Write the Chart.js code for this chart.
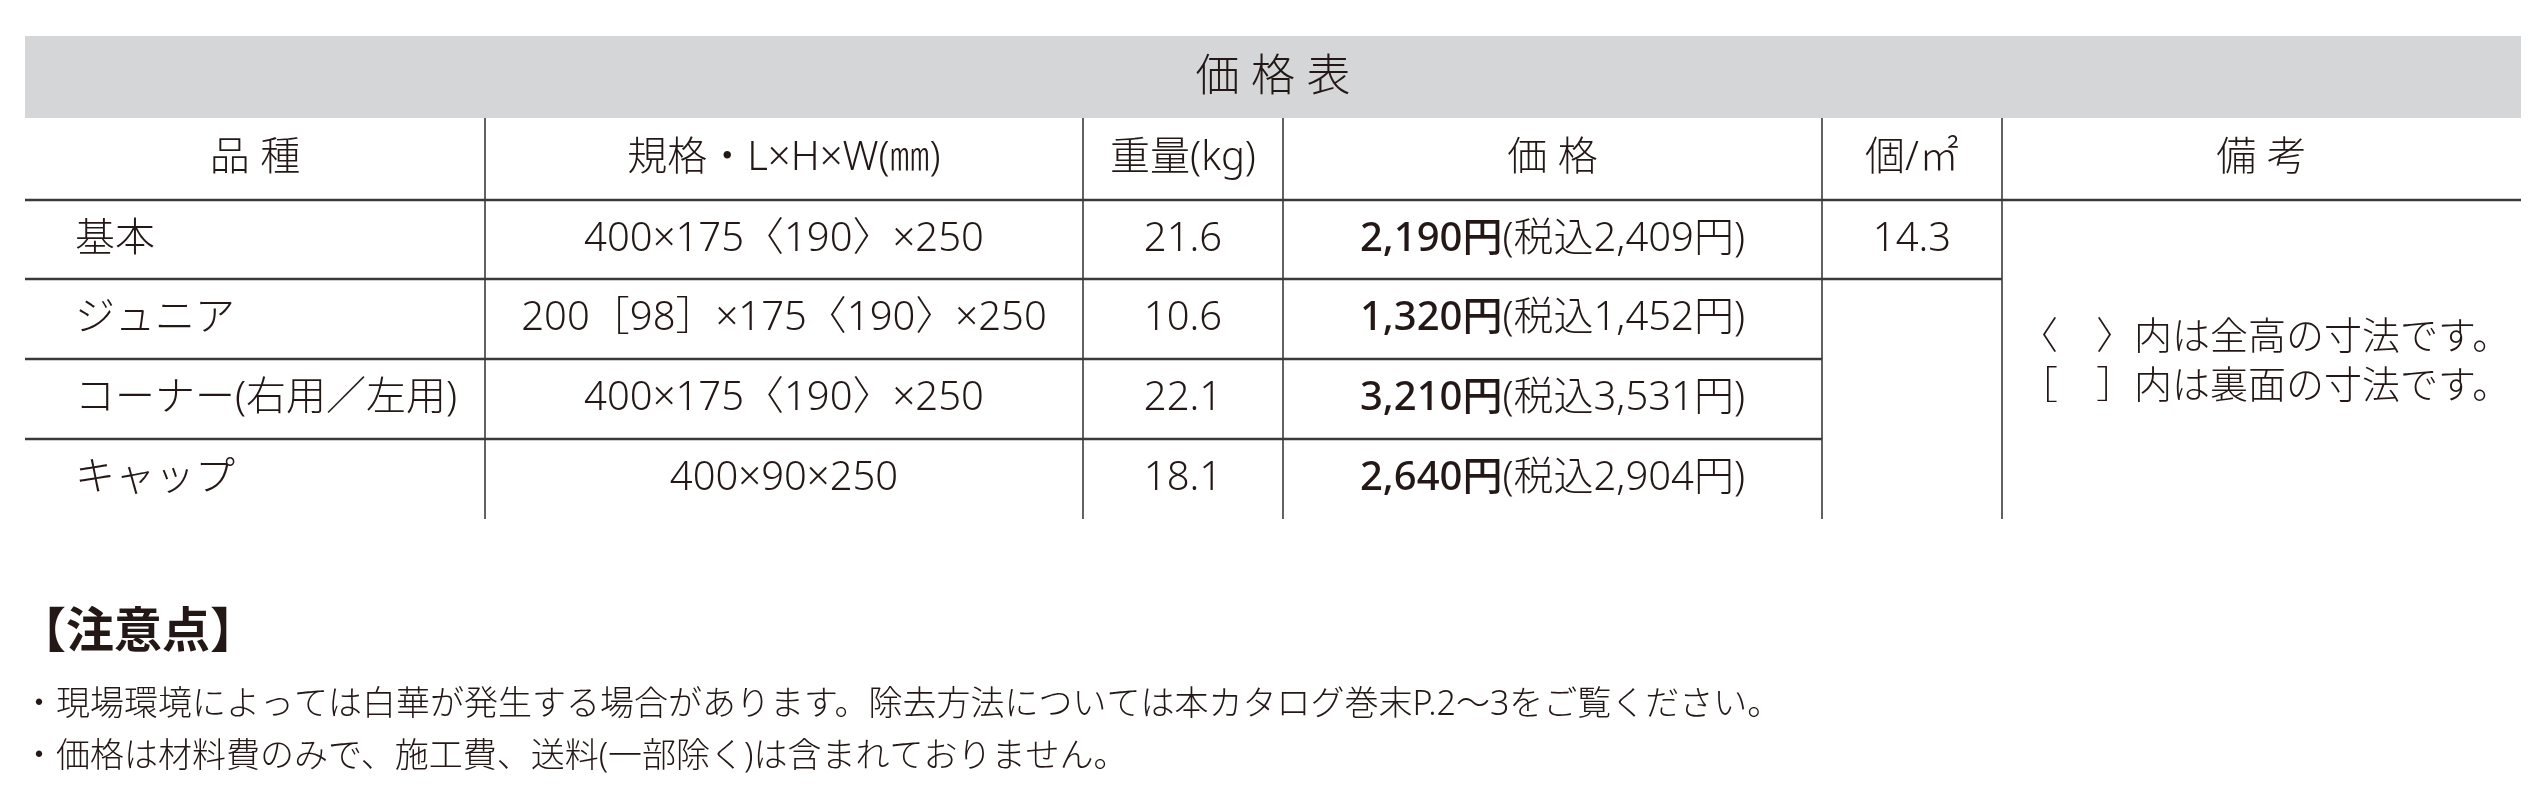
<!DOCTYPE html>
<html>
<head>
<meta charset="utf-8">
<script src="https://cdn.jsdelivr.net/npm/chart.js@4/dist/chart.umd.min.js"></script>
<style>
html, body { margin: 0; padding: 0; background: #fff; }
#wrap { width: 2540px; height: 810px; }
</style>
</head>
<body>
<div id="wrap"><canvas id="priceTable"></canvas></div>
<script>
const title = "価 格 表";
const headers = ["品 種", "規格・L×H×W(㎜)", "重量(kg)", "価 格", "個/㎡", "備 考"];
const names = ["基本", "ジュニア", "コーナー(右用／左用)", "キャップ"];
const sizes = ["400×175〈190〉×250", "200［98］×175〈190〉×250", "400×175〈190〉×250", "400×90×250"];
const weights = [21.6, 10.6, 22.1, 18.1];
const prices = ["2,190円", "1,320円", "3,210円", "2,640円"];
const taxPrices = ["(税込2,409円)", "(税込1,452円)", "(税込3,531円)", "(税込2,904円)"];
const perM2 = ["14.3"];
const remarks = ["〈　〉内は全高の寸法です。", "［　］内は裏面の寸法です。"];
const notesTitle = "【注意点】";
const notes = [
    "・現場環境によっては白華が発生する場合があります。除去方法については本カタログ巻末P.2〜3をご覧ください。",
    "・価格は材料費のみで、施工費、送料(一部除く)は含まれておりません。"
];

// layout (pixels of the 2540x810 page)
const colEdges = [25, 485, 1083, 1283, 1822, 2002, 2521];
const rowEdges = [118, 200, 279, 359, 439, 519];
const FONT = '"Noto Sans", "Noto Sans CJK JP", sans-serif';
const INK = "#231815";

const tablePlugin = {
    id: "tablePlugin",
    afterDraw(chart) {
        const ctx = chart.ctx;
        const X = v => chart.scales.x.getPixelForValue(v);
        const Y = v => chart.scales.y.getPixelForValue(v);
        const line = (x1, y1, x2, y2, w) => {
            ctx.beginPath();
            ctx.lineWidth = w;
            ctx.strokeStyle = "#3a3a3a";
            ctx.moveTo(X(x1), Y(y1));
            ctx.lineTo(X(x2), Y(y2));
            ctx.stroke();
        };
        ctx.save();
        ctx.fillStyle = "#d5d6d8";
        ctx.fillRect(X(colEdges[0]), Y(36), X(colEdges[6]) - X(colEdges[0]), Y(rowEdges[0]) - Y(36));
        ctx.fillStyle = INK;
        ctx.textBaseline = "middle";
        ctx.textAlign = "center";
        ctx.font = "300 44px " + FONT;
        ctx.fillText(title, X(1273), Y(78));

        line(colEdges[0], rowEdges[1], colEdges[6], rowEdges[1], 2.5);
        line(colEdges[0], rowEdges[2], colEdges[5], rowEdges[2], 2.5);
        line(colEdges[0], rowEdges[3], colEdges[4], rowEdges[3], 2.5);
        line(colEdges[0], rowEdges[4], colEdges[4], rowEdges[4], 2.5);
        for (let i = 1; i <= 5; i++) line(colEdges[i], rowEdges[0], colEdges[i], rowEdges[5], 1.6);

        const cx = i => (colEdges[i] + colEdges[i + 1]) / 2;
        const cy = r => (rowEdges[r] + rowEdges[r + 1]) / 2;

        ctx.font = "300 40px " + FONT;
        headers.forEach((h, i) => ctx.fillText(h, X(cx(i)), Y(cy(0))));

        names.forEach((n, r) => {
            const y = Y(cy(r + 1));
            ctx.textAlign = "left";
            ctx.font = "300 40px " + FONT;
            ctx.fillText(n, X(75), y);
            ctx.textAlign = "center";
            ctx.fillText(sizes[r], X(cx(1)), y);
            ctx.fillText(weights[r].toFixed(1), X(cx(2)), y);
            ctx.font = "500 40px " + FONT;
            const w1 = ctx.measureText(prices[r]).width;
            ctx.font = "300 40px " + FONT;
            const w2 = ctx.measureText(taxPrices[r]).width;
            const start = X(cx(3)) - (w1 + w2) / 2;
            ctx.textAlign = "left";
            ctx.font = "500 40px " + FONT;
            ctx.fillText(prices[r], start, y);
            ctx.font = "300 40px " + FONT;
            ctx.fillText(taxPrices[r], start + w1, y);
            ctx.textAlign = "center";
            if (perM2[r]) ctx.fillText(perM2[r], X(cx(4)), y);
        });

        ctx.textAlign = "left";
        ctx.font = "300 38px " + FONT;
        ctx.fillText(remarks[0], X(2020), Y(338));
        ctx.fillText(remarks[1], X(2020), Y(387));

        ctx.font = "700 48px " + FONT;
        ctx.fillText(notesTitle, X(18), Y(633));
        ctx.font = "300 34px " + FONT;
        ctx.fillText(notes[0], X(22), Y(705));
        ctx.fillText(notes[1], X(22), Y(757));
        ctx.restore();
    }
};

new Chart(document.getElementById("priceTable"), {
    type: "scatter",
    data: { datasets: [{ data: [] }] },
    options: {
        responsive: true,
        maintainAspectRatio: false,
        animation: false,
        layout: { padding: 0 },
        plugins: { legend: { display: false }, tooltip: { enabled: false } },
        scales: {
            x: { type: "linear", min: 0, max: 2540, display: false },
            y: { type: "linear", min: 0, max: 810, reverse: true, display: false }
        }
    },
    plugins: [tablePlugin]
});
</script>
</body>
</html>
